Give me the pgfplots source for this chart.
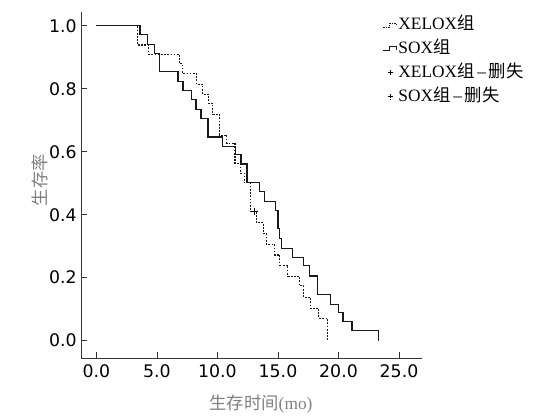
\documentclass[border=0pt]{standalone}
\usepackage{fontspec}
\setmainfont{Liberation Serif}
\newfontfamily\cjk{Noto Sans CJK SC}
\newfontfamily\tickfont{DejaVu Sans}
\usepackage{pgfplots}
\pgfplotsset{compat=1.18}
\definecolor{labgray}{HTML}{808080}

% Kaplan-Meier steps: time (mo), survival after the drop
\pgfplotstableread{
t s
0 1
3.38 0.939
4.30 0.910
6.86 0.880
7.11 0.849
8.27 0.814
8.80 0.783
9.26 0.754
9.62 0.719
10.15 0.653
10.78 0.627
11.45 0.563
11.90 0.532
12.20 0.502
12.70 0.410
13.19 0.375
13.77 0.341
14.04 0.306
14.73 0.272
15.15 0.240
15.81 0.205
16.78 0.174
17.13 0.138
17.69 0.103
18.38 0.071
19.12 0.000
}\xelox
\pgfplotstableread{
t s
0 1
3.60 0.973
4.22 0.941
4.82 0.912
5.22 0.854
6.73 0.824
7.15 0.795
7.83 0.765
8.23 0.735
8.63 0.706
9.22 0.647
10.40 0.616
11.47 0.590
11.94 0.561
12.44 0.503
13.44 0.473
13.90 0.443
14.79 0.413
15.00 0.357
15.15 0.325
15.29 0.293
16.20 0.265
17.10 0.238
17.62 0.205
18.29 0.147
19.35 0.116
20.03 0.090
20.37 0.060
21.12 0.031
23.28 0.000
}\sox

\begin{document}
\begin{tikzpicture}
\useasboundingbox (-61.1pt,-44pt) rectangle (357.4pt,268.7pt);
\begin{axis}[
  at={(0pt,0pt)}, anchor=south west,
  scale only axis, width=255.4pt, height=259.5pt,
  xmin=-1.24, xmax=26.9, ymin=-0.056, ymax=1.043,
  axis lines*=left,
  axis line style={black!80, line width=0.6pt},
  tick align=inside, major tick length=4.5pt,
  tick style={black!80, line width=0.6pt},
  xtick={0,5,10,15,20,25},
  ytick={0,0.2,0.4,0.6,0.8,1.0},
  /pgf/number format/assume math mode=true,
  /pgf/number format/fixed, /pgf/number format/fixed zerofill,
  /pgf/number format/precision=1,
  ticklabel style={font=\tickfont\fontsize{13}{15}\selectfont},
  xticklabel shift=1.5pt,
  xlabel={{\cjk 生存时间}(mo)},
  ylabel={\cjk 生存率},
  label style={font=\fontsize{13}{15}\selectfont, text=labgray},
  xlabel style={at={(axis description cs:0.527,0)}, anchor=center, yshift=-34.5pt},
  ylabel style={at={([xshift=-31pt]axis description cs:0,0.515)}, anchor=center},
  legend style={draw=none, fill=none, at={(0.872,1.0)}, anchor=north west,
    font=\fontsize{13}{15}\selectfont, row sep=2.8pt,
    nodes={inner sep=1pt, text height=10pt, text depth=3pt}},
  legend cell align=left,
]
\addplot[const plot, black!90, line width=0.8pt, dash pattern=on 1.3pt off 1.1pt,
  forget plot] table[x=t, y=s] {\xelox};
\addplot[const plot, black!90, line width=0.9pt, forget plot] table[x=t, y=s] {\sox};
% censored observation
\addplot[only marks, mark=+, mark size=2.6pt, black, forget plot] coordinates {(13.07,0.410)};

\addlegendimage{legend image code/.code={
  \draw[black!90, line width=0.7pt, dash pattern=on 1pt off 0.9pt]
    (0pt,-1.5pt) -- (5pt,-1.5pt) -- (5pt,1.5pt) -- (10pt,1.5pt) -- (10pt,-0.5pt);}}
\addlegendentry{XELOX{\cjk 组}}
\addlegendimage{legend image code/.code={
  \draw[black!90, line width=0.8pt]
    (0pt,-1.5pt) -- (5pt,-1.5pt) -- (5pt,1.5pt) -- (10pt,1.5pt) -- (10pt,-0.5pt);}}
\addlegendentry{SOX{\cjk 组}}
\addlegendimage{legend image code/.code={
  \draw[black, line width=0.5pt] (3.5pt,0pt) -- (7.5pt,0pt) (5.5pt,-2pt) -- (5.5pt,2pt);}}
\addlegendentry{XELOX{\cjk 组}\,--\,{\cjk 删失}}
\addlegendimage{legend image code/.code={
  \draw[black, line width=0.5pt] (3.5pt,0pt) -- (7.5pt,0pt);
  \draw[black, line width=0.5pt, dash pattern=on 0.6pt off 0.6pt] (5.5pt,-2.2pt) -- (5.5pt,2.2pt);}}
\addlegendentry{SOX{\cjk 组}\,--\,{\cjk 删失}}
\end{axis}
\end{tikzpicture}
\end{document}
